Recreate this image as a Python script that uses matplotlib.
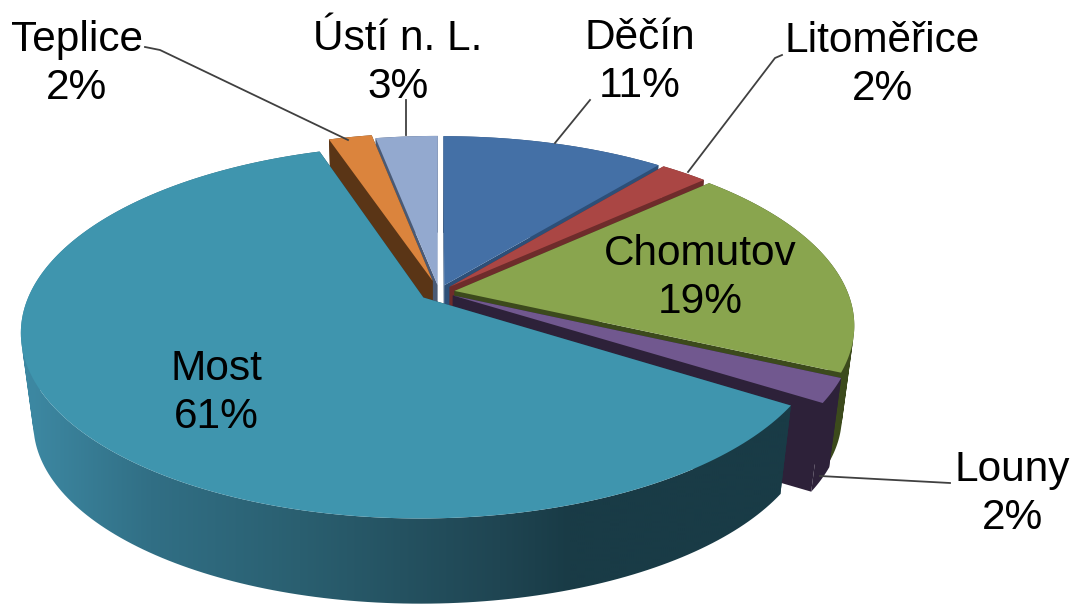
import numpy as np
import matplotlib
matplotlib.use("Agg")
import matplotlib.pyplot as plt
from matplotlib.colors import to_rgb
from matplotlib.patches import PathPatch
from matplotlib.path import Path

plt.rcParams['font.family'] = ['Liberation Sans', 'DejaVu Sans']

# 1. Data, clockwise from 12 o'clock
# shares, labels show them rounded
districts = ["Děčín", "Litoměřice", "Chomutov", "Louny", "Most", "Teplice", "Ústí n. L."]
shares = [10.8, 2.3, 18.85, 2.1, 60.8, 2.1, 3.0]
top_colors = ["#4470a6", "#aa4644", "#89a54e", "#71588f", "#3f95ae", "#db843d", "#93a9cf"]
wall_colors = ["#2d4f78", "#6e2c2b", "#3c4a1c", "#2d2139", "#1a3c47", "#5a3516", "#4a5a75"]
explodes = [0.04, 0.04, 0.04, 0.04, 0.05, 0.065, 0.04]

# Most's outer wall fades from left to right
fade_x = [30, 150, 300, 500, 570, 800]
fade_colors = ["#3d88a2", "#316f85", "#2a5f70", "#1f4552", "#193b46", "#193b46"]

# label placement in pixels: centre x, centre y
label_pos = [(640, 62), (882, 65), (700, 278), (1012, 494), (216, 393), (77, 64), (398, 63)]
# leader lines in pixels
leaders = [
    [(555, 143), (590, 100)],
    [(688, 172), (775, 58), (782, 55)],
    [(820, 476), (950, 483)],
    [(348, 140), (160, 50), (145, 47)],
    [(406, 135), (406, 100)],
]

# 2. Projection of the tilted pie
cx, cy = 439, 292
A, B, k = 393, 178.5, 0.182
depth, shrink = 92, 0.97


def project(theta, r, mid, explode, lower=False):
    X = r * np.sin(theta) + explode * np.sin(mid)
    Y = r * np.cos(theta) + explode * np.cos(mid)
    x = A * X / (1 + k * Y)
    y = -B * Y / (1 + k * Y)
    if lower:
        return cx + shrink * x, cy + shrink * y + depth
    return cx + x, cy + y


def wall_path(arc, mid, e):
    # the sweep of the rim: one quad per step, all wound the same way
    up_x, up_y = project(arc, 1, mid, e)
    lo_x, lo_y = project(arc, 1, mid, e, True)
    quads = []
    for j in range(len(arc) - 1):
        q = np.array([[up_x[j], up_y[j]], [up_x[j + 1], up_y[j + 1]],
                      [lo_x[j + 1], lo_y[j + 1]], [lo_x[j], lo_y[j]]])
        area = np.sum(q[:, 0] * np.roll(q[:, 1], -1) - np.roll(q[:, 0], -1) * q[:, 1])
        if area < 0:
            q = q[::-1]
        quads.append(Path(np.vstack([q, q[0]]), closed=True))
    return Path.make_compound_path(*quads)


# 3. Create the plot
fig = plt.figure(figsize=(10.71, 6.05), dpi=100)
ax = fig.add_axes([0, 0, 1, 1])
ax.axis("off")

edges = np.cumsum([0] + shares) / sum(shares) * 2 * np.pi
# Draw back to front: Ústí and Teplice first, Most last
order = [6, 5, 0, 1, 2, 3, 4]

for i in order:
    t1, t2 = edges[i], edges[i + 1]
    mid = (t1 + t2) / 2
    e = explodes[i]
    wall = wall_colors[i]
    z = order.index(i) * 3 + 1

    # radial walls
    for t in (t1, t2):
        ax0, ay0 = project(t, 0, mid, e)
        ax1, ay1 = project(t, 1, mid, e)
        bx0, by0 = project(t, 0, mid, e, True)
        bx1, by1 = project(t, 1, mid, e, True)
        ax.fill([ax0, ax1, bx1, bx0], [ay0, ay1, by1, by0], color=wall, lw=0, zorder=z)

    # outer wall
    arc = np.linspace(t1, t2, 200)
    rim = wall_path(arc, mid, e)
    if districts[i] == "Most":
        xs = np.linspace(0, 1071, 536)
        rgb = np.array([to_rgb(c) for c in fade_colors])
        grad = np.stack([np.interp(xs, fade_x, rgb[:, c]) for c in range(3)], axis=-1)[None, :, :]
        im = ax.imshow(grad, extent=(0, 1071, 605, 0), aspect="auto", zorder=z + 1, interpolation="bilinear")
        im.set_clip_path(PathPatch(rim, transform=ax.transData))
    else:
        ax.add_patch(PathPatch(rim, facecolor=wall, lw=0, zorder=z + 1))

    # top face
    up_x, up_y = project(arc, 1, mid, e)
    ox, oy = project(t1, 0, mid, e)
    ax.fill(np.r_[ox, up_x], np.r_[oy, up_y], color=top_colors[i], lw=0, zorder=z + 2)

# 4. Leaders and labels
for line in leaders:
    ax.plot([p[0] for p in line], [p[1] for p in line], color="#404040", lw=1.3, zorder=40)

for name, share, (lx, ly) in zip(districts, shares, label_pos):
    ax.text(lx, ly, f"{name}\n{round(share)}%", ha="center", va="center", fontsize=30.5,
            linespacing=1.28, color="black", zorder=50)

ax.set_xlim(0, 1071)
ax.set_ylim(605, 0)

fig.savefig("out.png", dpi=100)
plt.close(fig)
